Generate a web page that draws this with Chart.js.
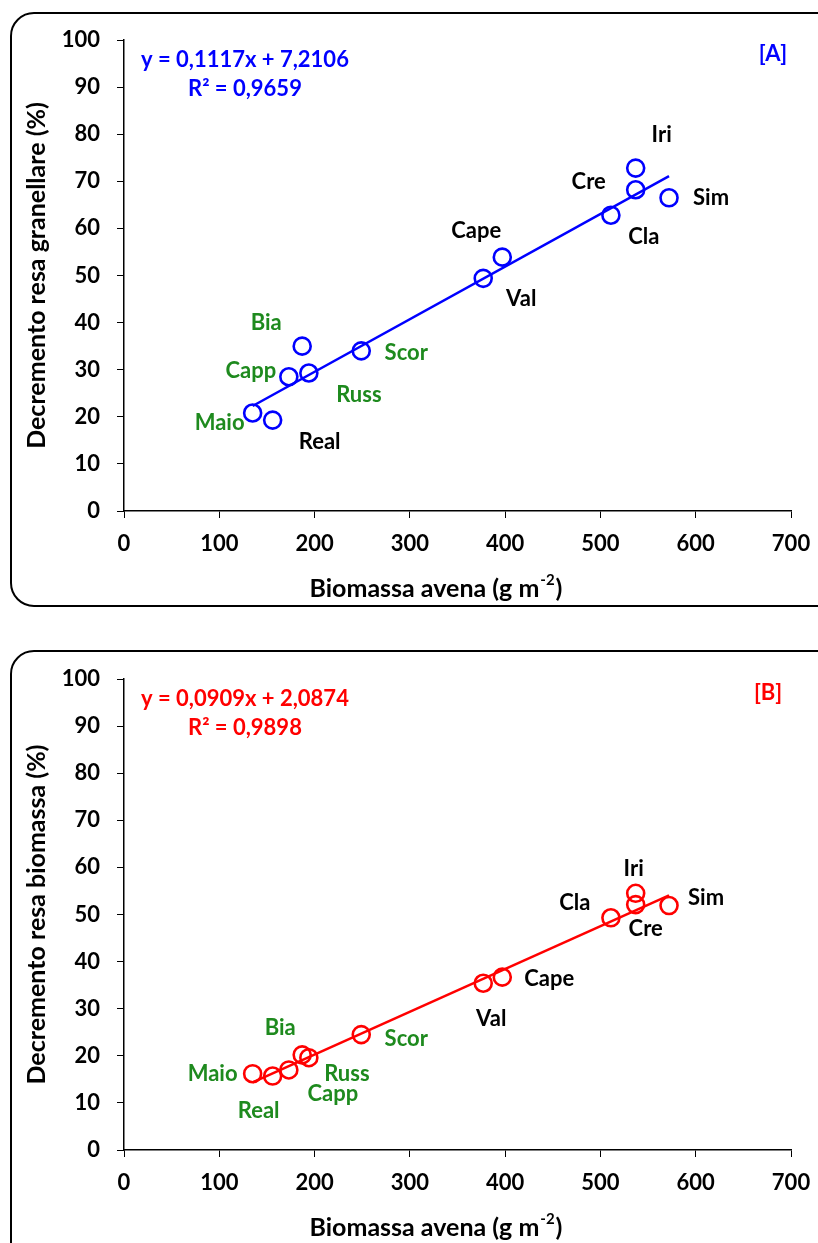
<!DOCTYPE html>
<html>
<head>
<meta charset="utf-8">
<script src="https://cdn.jsdelivr.net/npm/chart.js@4.4.1/dist/chart.umd.min.js"></script>
<style>
  html, body { margin: 0; padding: 0; background: #fff; }
  body { width: 818px; height: 1243px; position: relative; overflow: hidden; }
  .frame { position: absolute; left: 10px; width: 840px; border: 2px solid #000; border-radius: 24px; box-sizing: border-box; }
  #frameA { top: 12px; height: 595px; }
  #frameB { top: 650px; height: 640px; }
  canvas { position: absolute; left: 0; }
  #chartA { top: 0; }
  #chartB { top: 639px; }
</style>
</head>
<body>
<div class="frame" id="frameA"></div>
<div class="frame" id="frameB"></div>
<canvas id="chartA" width="818" height="604"></canvas>
<canvas id="chartB" width="818" height="604"></canvas>
<script>
(() => {
  // oat cultivars and measured values
  const CULTIVARS    = ['Maio', 'Real', 'Capp', 'Bia', 'Russ', 'Scor', 'Val', 'Cape', 'Cla', 'Cre', 'Iri', 'Sim'];
  const BIOMASS      = [135, 156, 173, 187, 194, 249, 377, 397, 511, 537, 537, 572];
  const GRAIN_LOSS   = [20.8, 19.3, 28.5, 35.0, 29.3, 34.0, 49.4, 53.9, 62.8, 68.2, 72.8, 66.5];
  const BIOMASS_LOSS = [16.2, 15.7, 17.0, 20.2, 19.6, 24.5, 35.4, 36.7, 49.3, 52.1, 54.5, 51.9];

  // fitted regressions
  const FIT_A = { slope: 0.1117, icpt: 7.2106, r2: 0.9659 };
  const FIT_B = { slope: 0.0909, icpt: 2.0874, r2: 0.9898 };

  // axis ticks
  const X_MIN = 0, X_MAX = 700, X_STEP = 100;
  const Y_MIN = 0, Y_MAX = 100, Y_STEP = 10;

  // label placement (px from point) and colours
  const GREEN = '#1e8a1e';
  const LBL_A = [[-33, 10], [47, 22], [-38, -6], [-36, -23], [50, 22], [45, 2],
                 [38, 21], [-26, -26], [33, 22], [-47, -8], [26, -33], [42, 0]];
  const LBL_B = [[-40, 0], [-14, 35], [44, 24], [-22, -27], [38, 16], [45, 4],
                 [8, 36], [47, 2], [-36, -15], [10, 24], [-2, -24], [37, -8]];
  const COL_A = [GREEN, '#000', GREEN, GREEN, GREEN, GREEN, '#000', '#000', '#000', '#000', '#000', '#000'];
  const COL_B = [GREEN, GREEN, GREEN, GREEN, GREEN, GREEN, '#000', '#000', '#000', '#000', '#000', '#000'];

  const FONT = 'Lato, "Open Sans", sans-serif';
  const comma = (v, p) => v.toFixed(p).replace('.', ',');

  // names next to the points
  const pointLabels = {
    id: 'pointLabels',
    afterDatasetsDraw(chart, args, opts) {
      const ctx = chart.ctx;
      const meta = chart.getDatasetMeta(1);
      ctx.save();
      ctx.font = `bold 22px ${FONT}`;
      ctx.textAlign = 'center';
      ctx.textBaseline = 'middle';
      meta.data.forEach((pt, i) => {
        ctx.fillStyle = opts.colors[i];
        ctx.fillText(CULTIVARS[i], pt.x + opts.offsets[i][0], pt.y + opts.offsets[i][1]);
      });
      ctx.restore();
    }
  };

  // equation, R², panel tag and x title with superscript
  const notes = {
    id: 'notes',
    afterDraw(chart, args, opts) {
      const ctx = chart.ctx;
      const f = opts.fit;
      ctx.save();
      ctx.fillStyle = opts.color;
      ctx.font = `bold 22px ${FONT}`;
      ctx.textBaseline = 'middle';
      ctx.textAlign = 'left';
      ctx.fillText(`y = ${comma(f.slope, 4)}x + ${comma(f.icpt, 4)}`, 141, opts.eqY);
      ctx.fillText(`R² = ${comma(f.r2, 4)}`, 188, opts.eqY + 29);
      ctx.textAlign = 'center';
      ctx.fillText(opts.tag, opts.tagX, opts.eqY - 6);

      ctx.fillStyle = '#000';
      ctx.textAlign = 'left';
      const big = `bold 25px ${FONT}`, small = `bold 15px ${FONT}`;
      const parts = ['Biomassa avena (g m', '-2', ')'];
      ctx.font = big;  const w0 = ctx.measureText(parts[0]).width, w2 = ctx.measureText(parts[2]).width;
      ctx.font = small; const w1 = ctx.measureText(parts[1]).width;
      let x = 435 - (w0 + w1 + w2) / 2;
      const y = 589;
      ctx.font = big;   ctx.fillText(parts[0], x, y); x += w0;
      ctx.font = small; ctx.fillText(parts[1], x + 1, y - 9); x += w1 + 2;
      ctx.font = big;   ctx.fillText(parts[2], x, y);
      ctx.restore();
    }
  };

  function build(id, values, fit, color, yTitle, tag, tagX, offsets, colors) {
    const xs = BIOMASS;
    const lo = Math.min(...xs), hi = Math.max(...xs);
    const trend = [lo, hi].map(x => ({ x, y: fit.slope * x + fit.icpt }));
    const pts = xs.map((x, i) => ({ x, y: values[i] }));
    const tickFont = { family: FONT, size: 22, weight: 'bold' };

    new Chart(document.getElementById(id), {
      type: 'scatter',
      data: {
        datasets: [
          { type: 'line', data: trend, borderColor: color, borderWidth: 2.5, pointRadius: 0, fill: false },
          { data: pts, borderColor: color, backgroundColor: 'rgba(0,0,0,0)', borderWidth: 2.6,
            pointRadius: 8.5, pointHoverRadius: 8.5 }
        ]
      },
      options: {
        responsive: false,
        animation: false,
        devicePixelRatio: 1,
        events: [],
        layout: { padding: { top: 40, right: 27, bottom: 0, left: 0 } },
        plugins: {
          legend: { display: false },
          tooltip: { enabled: false },
          pointLabels: { offsets, colors },
          notes: { fit, color, tag, tagX, eqY: 60 }
        },
        scales: {
          x: {
            type: 'linear', min: X_MIN, max: X_MAX,
            ticks: { stepSize: X_STEP, font: tickFont, color: '#000', padding: 13 },
            grid: { drawOnChartArea: false, drawTicks: true, tickLength: 7, color: '#000', lineWidth: 1 },
            border: { color: '#000', width: 1.5 },
            afterFit: s => { s.height = 93; s.paddingRight = 0; s.paddingLeft = 0; }
          },
          y: {
            type: 'linear', min: Y_MIN, max: Y_MAX,
            ticks: { stepSize: Y_STEP, font: tickFont, color: '#000', padding: 17 },
            grid: { drawOnChartArea: false, drawTicks: true, tickLength: 7, color: '#000', lineWidth: 1 },
            border: { color: '#000', width: 1.5 },
            title: { display: true, text: yTitle, color: '#000', font: { family: FONT, size: 25, weight: 'bold' },
                     padding: { top: 22, bottom: 0 } },
            afterFit: s => { s.width = 124; }
          }
        }
      },
      plugins: [pointLabels, notes]
    });
  }

  build('chartA', GRAIN_LOSS, FIT_A, '#0000ff', 'Decremento resa granellare (%)', '[A]', 773, LBL_A, COL_A);
  build('chartB', BIOMASS_LOSS, FIT_B, '#ff0000', 'Decremento resa biomassa (%)', '[B]', 768, LBL_B, COL_B);
})();
</script>
</body>
</html>
